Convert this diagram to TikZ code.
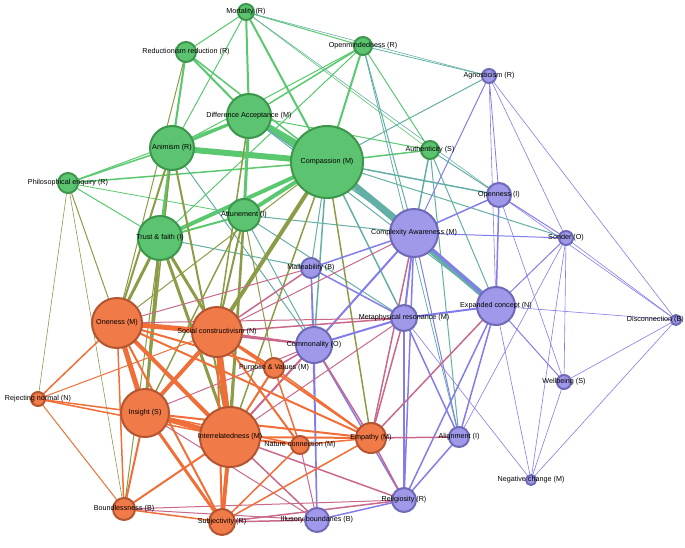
\documentclass[tikz,border=0pt]{standalone}
\usepackage{fontspec}
\setmainfont{Liberation Sans}
\begin{document}
\begin{tikzpicture}[x=1pt,y=-1pt,
  gn/.style={circle,draw={rgb,255:red,60;green,150;blue,75},fill={rgb,255:red,92;green,196;blue,112},line width=2pt},
  pn/.style={circle,draw={rgb,255:red,110;green,105;blue,185},fill={rgb,255:red,160;green,152;blue,232},line width=2pt},
  on/.style={circle,draw={rgb,255:red,180;green,85;blue,50},fill={rgb,255:red,240;green,122;blue,72},line width=2pt},
  lab/.style={font=\fontsize{7.2}{8}\selectfont,text=black},
  gg/.style={draw={rgb,255:red,90;green,200;blue,110}},
  pp/.style={draw={rgb,255:red,130;green,125;blue,235}},
  oo/.style={draw={rgb,255:red,240;green,110;blue,55}},
  gp/.style={draw={rgb,255:red,100;green,175;blue,165}},
  op/.style={draw={rgb,255:red,200;green,105;blue,140}},
  go/.style={draw={rgb,255:red,140;green,155;blue,70}}]
\useasboundingbox (0,0) rectangle (685,547);
\def\nodelist{mor/246/12/8/gn/Mortality (R),red/186/52/10/gn/Reductionism reduction (R),opm/363/46/9/gn/Openmindedness (R),dif/249/116/22/gn/Difference Acceptance (M),ani/172/148/22/gn/Animism (R),com/327/162/36/gn/Compassion (M),aut/430/150/9/gn/Authenticity (S),phi/68/183/10/gn/Philosophical enquiry (R),att/244/215/16/gn/Attunement (I),tru/160/238/22/gn/Trust \& faith (I),agn/489/76/7/pn/Agnosticism (R),opn/499/195/12/pn/Openness (I),son/566/238/7/pn/Sonder (O),cxa/414/233/24/pn/Complexity Awareness (M),mal/311/268/10/pn/Malleability (B),exp/496/306/19/pn/Expanded concept (N),dis/676/320/5/pn/,met/404/318/13/pn/Metaphysical resonance (M),cmn/314/345/18/pn/Commonality (O),wel/564/382/7/pn/Wellbeing (S),ali/459/437/10/pn/Alignment (I),neg/531/480/5/pn/Negative change (M),rel/404/500/12/pn/Religiosity (R),ill/317/520/12/pn/Illusory boundaries (B),one/117/323/25/on/Oneness (M),soc/217/332/25/on/Social constructivism (N),rej/38/399/7/on/Rejecting normal (N),ins/145/413/24/on/Insight (S),pur/274/368/10/on/Purpose \& Values (M),emp/371/438/15/on/Empathy (M),int/230/437/30/on/Interrelatedness (M),nat/300/445/9/on/Nature connection (M),bou/124/509/11/on/Boundlessness (B),sub/222/522/13/on/Subjectivity (R)}
\foreach \n/\x/\y/\r/\s/\t in \nodelist { \coordinate (\n) at (\x,\y); }
\foreach \a/\b/\w in {com/dif/7,com/ani/6,com/tru/4,com/att/4,dif/ani/3,dif/att/3,tru/ani/3,mor/red/1,mor/dif/2,mor/com/2,mor/ani/1,mor/aut/0.6,mor/opm/1,red/dif/2,red/ani/2,red/com/1.5,red/tru/1,opm/com/2,opm/dif/1.5,opm/ani/1,opm/aut/1,opm/tru/1,phi/ani/1.5,phi/dif/1,phi/tru/1,phi/com/1.5,phi/att/0.8,att/tru/2,att/com/2,aut/com/1.5,aut/dif/1}
  \draw[gg,line width=\w pt] (\a) -- (\b);
\foreach \a/\b/\w in {com/cxa/5,com/exp/6,com/opn/1.5,com/son/1,com/met/1.5,com/cmn/1.5,com/mal/1,aut/opn/1,aut/cxa/1.5,aut/exp/1,opm/agn/0.8,mor/agn/0.6,mor/opn/0.6,dif/cxa/1.5,dif/exp/1,att/cxa/1,att/met/1,att/cmn/1,tru/mal/1,ani/cmn/1,agn/com/1,opm/cxa/1,opm/ali/0.8,aut/ali/1}
  \draw[gp,line width=\w pt] (\a) -- (\b);
\foreach \a/\b/\w in {tru/ins/3,tru/int/3,ani/int/2,att/int/2.5,att/soc/2,att/pur/1,com/emp/1.5,dif/soc/1.5,phi/one/1,phi/rej/0.6,phi/bou/0.6,red/one/1,tru/bou/1,att/sub/1,com/int/1.5,ani/ins/1.5,com/one/1,com/soc/4,tru/one/3,tru/soc/3,ani/one/2,att/ins/1.5}
  \draw[go,line width=\w pt] (\a) -- (\b);
\foreach \a/\b/\w in {cxa/exp/3,cxa/opn/1.5,cxa/met/2,cxa/cmn/2,cxa/mal/1.5,cxa/son/1,cxa/rel/1.5,cxa/ali/1,exp/met/2,exp/ali/1.5,exp/wel/1,exp/son/1,exp/dis/0.6,exp/rel/1.5,opn/son/1,opn/dis/0.6,opn/exp/1.5,opn/wel/0.6,agn/son/0.6,agn/dis/0.6,agn/opn/0.8,agn/cxa/1,son/dis/0.6,son/wel/0.6,son/ali/0.6,dis/wel/0.6,dis/neg/0.6,wel/neg/0.6,met/cmn/2,met/rel/1.5,met/ali/1.5,cmn/rel/1.5,cmn/ill/1.5,cmn/mal/1.5,ill/rel/1.5,ali/rel/1.5,neg/exp/0.6,neg/met/0.6,mal/met/1.5,mal/ill/1,son/neg/0.6,agn/exp/0.6}
  \draw[pp,line width=\w pt] (\a) -- (\b);
\foreach \a/\b/\w in {one/cmn/1.5,one/mal/1,soc/cmn/2,soc/met/1.5,soc/mal/1.5,ins/cmn/1,int/cmn/2,int/rel/1.5,int/ill/1.5,emp/cxa/1.5,emp/exp/1.5,emp/met/1.5,emp/rel/1.5,emp/ali/1.5,sub/ill/1.5,sub/rel/1.5,bou/ill/1,pur/cmn/1.5,nat/ill/1,emp/cmn/1.5,bou/rel/1,ins/ill/1,one/met/1,soc/cxa/1,int/met/1}
  \draw[op,line width=\w pt] (\a) -- (\b);
\foreach \a/\b/\w in {one/ins/5,one/soc/5,soc/int/6,ins/int/5,one/int/4,ins/soc/4,int/sub/4,ins/sub/3,one/rej/1.5,one/pur/2,one/emp/2,one/bou/1.5,one/sub/2,soc/pur/2,soc/emp/2,soc/nat/2,ins/bou/2,ins/emp/2,ins/nat/1.5,int/pur/2,int/nat/2,int/emp/2,int/bou/2,rej/ins/1.5,rej/int/1.5,rej/bou/1,bou/sub/1.5,sub/emp/1.5,sub/nat/1.5,pur/emp/1.5,pur/nat/1.5,emp/nat/1.5,rej/soc/1,soc/sub/2}
  \draw[oo,line width=\w pt] (\a) -- (\b);
\foreach \n/\x/\y/\r/\s/\t in \nodelist { \node[\s,minimum size=2*\r pt,inner sep=0pt] (n\n) at (\x,\y) {}; }
\foreach \n/\x/\y/\r/\s/\t in \nodelist { \node[lab] (l\n) at (\x,\y) {\t}; }
\node[lab,anchor=east,inner sep=1pt] (ldis) at (685,320) {Disconnection (B)};
\end{tikzpicture}
\end{document}
